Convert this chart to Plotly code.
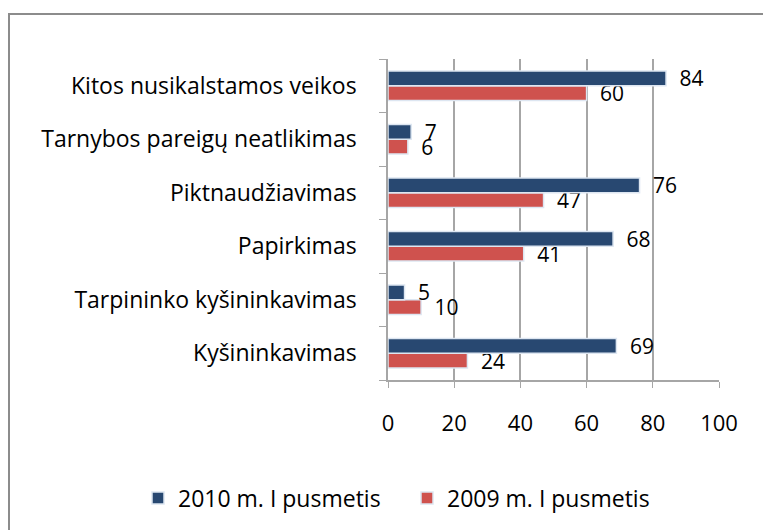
import plotly.graph_objects as go

# categories listed bottom -> top (plotly draws the first category at the bottom)
categories = [
    "Kyšininkavimas",
    "Tarpininko kyšininkavimas",
    "Papirkimas",
    "Piktnaudžiavimas",
    "Tarnybos pareigų neatlikimas",
    "Kitos nusikalstamos veikos",
]
values_2010 = [69, 5, 68, 76, 7, 84]
values_2009 = [24, 10, 41, 47, 6, 60]
x_ticks = [0, 20, 40, 60, 80, 100]

W, H = 771, 530
M_L, M_R, M_T, M_B = 380, 60, 51, 158
FONT = "'Open Sans', Lato, sans-serif"

fig = go.Figure()
fig.add_trace(go.Bar(
    y=categories, x=values_2009, orientation="h", name="2009 m. I pusmetis",
    marker=dict(color="#cf524e", line=dict(color="#dde6f1", width=1.5)),
    texttemplate="\u2002%{x}", textposition="outside", cliponaxis=False, constraintext="none",
    textfont=dict(size=21, color="#000000"),
))
fig.add_trace(go.Bar(
    y=categories, x=values_2010, orientation="h", name="2010 m. I pusmetis",
    marker=dict(color="#284871", line=dict(color="#dde6f1", width=1.5)),
    texttemplate="\u2002%{x}", textposition="outside", cliponaxis=False, constraintext="none",
    textfont=dict(size=21, color="#000000"),
))

# outer chart border (it runs past the right and bottom edges of the picture)
pw, ph = W - M_L - M_R, H - M_T - M_B
def px2paper(x, y):
    return (x - M_L) / pw, (H - M_B - y) / ph

x0, y0 = px2paper(1, 6)
x1, y1 = px2paper(W + 40, H + 40)
fig.add_shape(type="rect", xref="paper", yref="paper", x0=x0, y0=y1, x1=x1, y1=y0,
              line=dict(color="#8c8c8c", width=2), layer="below")

leg_x, leg_y = px2paper(130, 490)

fig.update_layout(
    width=W, height=H,
    paper_bgcolor="white", plot_bgcolor="white",
    font=dict(family=FONT, size=22, color="#000000"),
    barmode="group", bargap=0.45, bargroupgap=0.0,
    margin=dict(l=M_L, r=M_R, t=M_T, b=M_B, autoexpand=False),
    xaxis=dict(
        range=[0, 100], tickvals=x_ticks, showgrid=True, gridcolor="#a6a6a6", gridwidth=1.5,
        zeroline=False, showline=True, linecolor="#a6a6a6", linewidth=1.5,
        ticks="outside", ticklen=6, tickcolor="#a6a6a6", ticklabelstandoff=17,
        tickfont=dict(size=22),
    ),
    yaxis=dict(
        showgrid=False, showline=True, linecolor="#a6a6a6", linewidth=1.5,
        ticks="outside", ticklen=7, tickcolor="#a6a6a6", tickson="boundaries",
        ticklabelstandoff=25, tickfont=dict(size=23),
    ),
    showlegend=True,
    legend=dict(
        orientation="h", traceorder="reversed",
        x=leg_x, xanchor="left", y=leg_y, yanchor="middle",
        entrywidth=224, font=dict(size=23),
    ),
)

fig.write_html("out.html")
